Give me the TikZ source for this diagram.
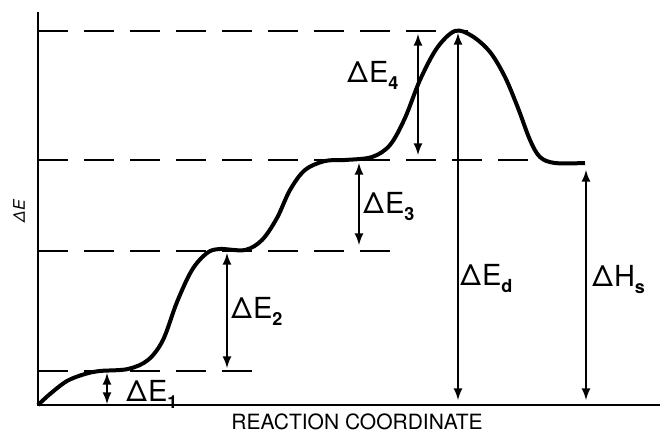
\documentclass[tikz,border=0pt]{standalone}
\usepackage{fontspec}
\setmainfont{TeX Gyre Heros}
\usepackage{tikz}
\newcommand{\lowsub}[1]{\raisebox{-0.5ex}{\fontsize{9}{9}\selectfont\bfseries #1}}

\begin{document}
\begin{tikzpicture}[x=0.5pt,y=-0.5pt,
  level/.style={line width=1pt,dash pattern=on 15pt off 8pt},
  gap/.style={latex-latex,line width=1pt},
  lbl/.style={inner sep=0pt,anchor=base west,font=\fontsize{14.5}{16}\selectfont}]
\useasboundingbox (0,0) rectangle (660,434);
\coordinate (origin) at (38,405);
\coordinate (ytop) at (38,12);
\coordinate (xend) at (660,405);
\coordinate (lvl1) at (38,371);
\coordinate (lvl1e) at (265,371);
\coordinate (lvl2) at (38,251);
\coordinate (lvl2e) at (395,251);
\coordinate (lvl3) at (38,160);
\coordinate (lvl3e) at (535,160);
\coordinate (lvl4) at (38,31);
\coordinate (lvl4e) at (468,31);
\draw[line width=1.2pt] (ytop)--(origin)--(xend);
\draw[level] (lvl1)--(lvl1e);
\draw[level] (lvl2)--(lvl2e);
\draw[level] (lvl3)--(lvl3e);
\draw[level] (lvl4)--(lvl4e);
\draw[line width=2pt] plot[smooth,tension=0.55] coordinates {(38,405) (50,394) (67,381) (85,374) (100,371) (128,369) (148,360) (163,340) (177,302) (192,270) (207,253) (220,249) (245,250) (262,240) (277,218) (290,190) (305,170) (325,161) (345,160) (372,157) (390,145) (405,118) (420,80) (437,48) (455,31) (472,36) (490,52) (505,77) (518,108) (530,140) (540,157) (555,163) (585,163)};
\coordinate (a1t) at (107,373);
\coordinate (a1b) at (107,404);
\coordinate (a2t) at (227,253);
\coordinate (a2b) at (227,368);
\coordinate (a3t) at (359,163);
\coordinate (a3b) at (359,245);
\coordinate (a4t) at (418,34);
\coordinate (a4b) at (418,155);
\coordinate (adt) at (458,33);
\coordinate (adb) at (458,400);
\coordinate (aht) at (586,170);
\coordinate (ahb) at (586,400);
\draw[gap] (a1t)--(a1b);
\draw[gap] (a2t)--(a2b);
\draw[gap] (a3t)--(a3b);
\draw[gap] (a4t)--(a4b);
\draw[gap] (adt)--(adb);
\draw[gap] (aht)--(ahb);
\node[lbl] (e1) at (126,401) {Δ\kern0.5ptE\lowsub{1}};
\node[lbl] (e2) at (231,318) {Δ\kern0.5ptE\lowsub{2}};
\node[lbl] (e3) at (363,213) {Δ\kern0.5ptE\lowsub{3}};
\node[lbl] (e4) at (347,82) {Δ\kern0.5ptE\lowsub{4}};
\node[lbl] (ed) at (460,285) {Δ\kern0.5ptE\lowsub{d}};
\node[lbl] (hs) at (592,286) {Δ\kern0.5ptH\lowsub{s}};
\node[rotate=90,font=\fontsize{8}{9}\selectfont\itshape] (yl) at (19,211) {ΔE};
\node[font=\fontsize{10.5}{12}\selectfont] (xl) at (357,422) {REACTION COORDINATE};
\end{tikzpicture}
\end{document}
